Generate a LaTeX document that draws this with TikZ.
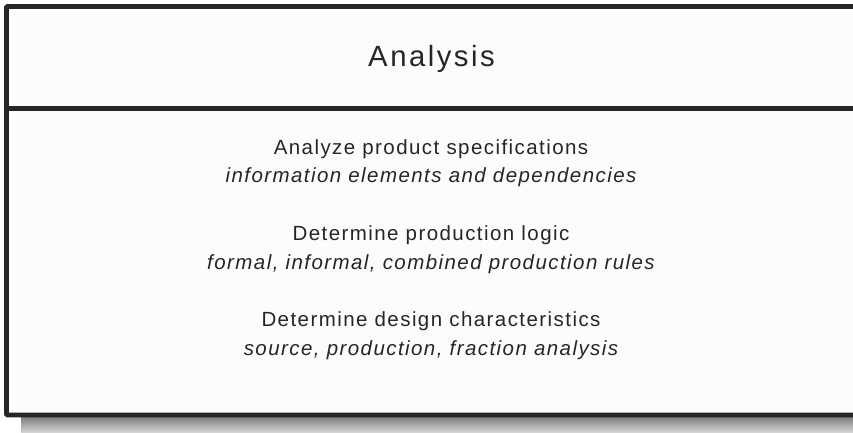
\documentclass[tikz,border=0pt]{standalone}
\usepackage{fontspec}
\setmainfont{Liberation Sans}
\newfontfamily\bodyfont[LetterSpace=7]{Liberation Sans}
\newfontfamily\titlefont[LetterSpace=8.5]{Liberation Sans}
\definecolor{ink}{HTML}{262626}
\definecolor{shade}{HTML}{D3D3D3}
\definecolor{paper}{HTML}{FCFCFC}
\begin{document}
\begin{tikzpicture}[x=1pt,y=-1pt,
  frame/.style={draw=ink, line width=4.8pt, fill=paper, rounded corners=1pt},
  divider/.style={draw=ink, line width=4.5pt},
  titletext/.style={anchor=base, inner sep=0pt, text=ink, font=\titlefont\fontsize{29.3}{34}\selectfont},
  mainline/.style={anchor=base, inner sep=0pt, text=ink, font=\bodyfont\fontsize{20.5}{24}\selectfont},
  subline/.style={anchor=base, inner sep=0pt, text=ink, font=\bodyfont\itshape\fontsize{20.5}{24}\selectfont}]
\useasboundingbox (0,0) rectangle (853,432);
\fill[white] (0,0) rectangle (853,432);
% shadow
\fill[shade] (21,417) rectangle (880,440);
% box
\path[frame] (6.5,6.5) rectangle (880,415);
\coordinate (dl) at (6.5,108.3);
\coordinate (dr) at (880,108.3);
\draw[divider] (dl) -- (dr);
% texts
\node[titletext] (title) at (431.5,66.7) {Analysis};
\node[mainline] (l1) at (431,154) {Analyze product specifications};
\node[subline] (l2) at (431,182.5) {information elements and dependencies};
\node[mainline] (l3) at (431,240.7) {Determine production logic};
\node[subline] (l4) at (431,269.3) {formal, informal, combined production rules};
\node[mainline] (l5) at (431,326.7) {Determine design characteristics};
\node[subline] (l6) at (431,355) {source, production, fraction analysis};
\end{tikzpicture}
\end{document}
